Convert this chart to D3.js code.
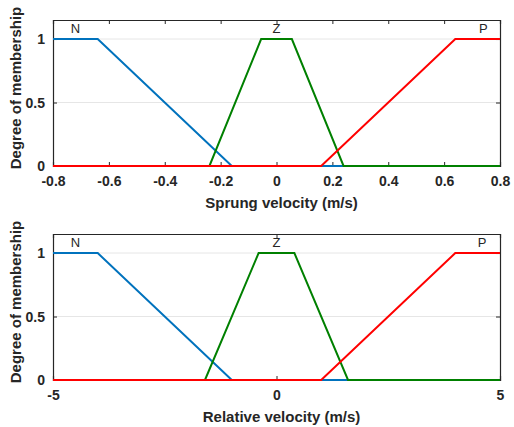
<!DOCTYPE html>
<html>
  <head><meta charset="utf-8"></head>
  <body style="margin:0;background:#fff">
    <style>
      text { font-family: Arial, "Liberation Sans", sans-serif; }
      .tick text { font-size: 14px; font-weight: bold; fill: #262626; }
      .lbl { font-size: 15px; font-weight: bold; fill: #262626; }
      .mf { font-size: 13px; fill: #262626; }
    </style>
    <script src="https://cdn.jsdelivr.net/npm/d3@7"></script>
    <script type="text/javascript">
      const width = 514;
      const height = 427;

      const mfNames = ['N', 'Z', 'P'];
      const mfColors = ['#0072BD', '#008000', '#FF0000'];
      const yTicks = [0, 0.5, 1];

      // top: sprung velocity
      const sprungDomain = [-0.8, 0.8];
      const sprungTicks = [-0.8, -0.6, -0.4, -0.2, 0, 0.2, 0.4, 0.6, 0.8];
      const sprungN = [[-0.8, 1], [-0.64, 1], [-0.16, 0], [0.8, 0]];
      const sprungZ = [[-0.8, 0], [-0.24, 0], [-0.055, 1], [0.055, 1], [0.24, 0], [0.8, 0]];
      const sprungP = [[-0.8, 0], [0.16, 0], [0.64, 1], [0.8, 1]];
      const sprungLabelX = [-0.72, 0, 0.74];

      // bottom: relative velocity
      const relDomain = [-5, 5];
      const relTicks = [-5, 0, 5];
      const relN = [[-5, 1], [-4, 1], [-1, 0], [5, 0]];
      const relZ = [[-5, 0], [-1.6, 0], [-0.4, 1], [0.4, 1], [1.6, 0], [5, 0]];
      const relP = [[-5, 0], [1, 0], [4, 1], [5, 1]];
      const relLabelX = [-4.5, 0, 4.6];

      const fmt = d => String(d);

      const svg = d3.select('body').append('svg')
        .attr('width', width)
        .attr('height', height);

      function drawPanel(top, domain, ticks, series, labelX, xTitle) {
        const left = 53, right = 500, bottom = top + 146;
        const x = d3.scaleLinear().domain(domain).range([left, right]);
        const y = d3.scaleLinear().domain([0, 1.15]).range([bottom, top]);
        const g = svg.append('g');

        // grid
        g.selectAll('.grid').data(yTicks.slice(1)).enter().append('line')
          .attr('x1', left).attr('x2', right)
          .attr('y1', d => y(d)).attr('y2', d => y(d))
          .attr('stroke', '#e6e6e6').attr('stroke-width', 1);

        const xAxis = g.append('g')
          .attr('transform', `translate(0,${bottom})`)
          .call(d3.axisBottom(x).tickValues(ticks).tickSize(-4).tickPadding(10).tickFormat(fmt));
        const xTop = g.append('g')
          .attr('transform', `translate(0,${top})`)
          .call(d3.axisTop(x).tickValues(ticks).tickSize(-4).tickFormat(''));
        const yAxis = g.append('g')
          .attr('transform', `translate(${left},0)`)
          .call(d3.axisLeft(y).tickValues(yTicks).tickSize(-4).tickPadding(8).tickFormat(fmt));
        const yRight = g.append('g')
          .attr('transform', `translate(${right},0)`)
          .call(d3.axisRight(y).tickValues(yTicks).tickSize(-4).tickFormat(''));
        [xAxis, xTop, yAxis, yRight].forEach(a => {
          a.select('.domain').attr('stroke', '#262626').attr('stroke-width', 1.2);
          a.selectAll('.tick line').attr('stroke', '#262626');
        });

        const line = d3.line().x(d => x(d[0])).y(d => y(d[1]));
        g.selectAll('.mfline').data(series).enter().append('path')
          .attr('d', d => line(d))
          .attr('fill', 'none')
          .attr('stroke', (d, i) => mfColors[i])
          .attr('stroke-width', 2);

        g.selectAll('.mf').data(mfNames).enter().append('text')
          .attr('class', 'mf')
          .attr('x', (d, i) => x(labelX[i]))
          .attr('y', y(1) - 6)
          .attr('text-anchor', 'middle')
          .text(d => d);

        g.append('text').attr('class', 'lbl')
          .attr('x', (left + right) / 2 + 5).attr('y', bottom + 42)
          .attr('text-anchor', 'middle')
          .text(xTitle);
        g.append('text').attr('class', 'lbl')
          .attr('transform', `translate(21,${(top + bottom) / 2 - 5}) rotate(-90)`)
          .attr('text-anchor', 'middle')
          .text('Degree of membership');
      }

      drawPanel(20, sprungDomain, sprungTicks, [sprungN, sprungZ, sprungP], sprungLabelX, 'Sprung velocity (m/s)');
      drawPanel(234, relDomain, relTicks, [relN, relZ, relP], relLabelX, 'Relative velocity (m/s)');
    </script>
  </body>
</html>
